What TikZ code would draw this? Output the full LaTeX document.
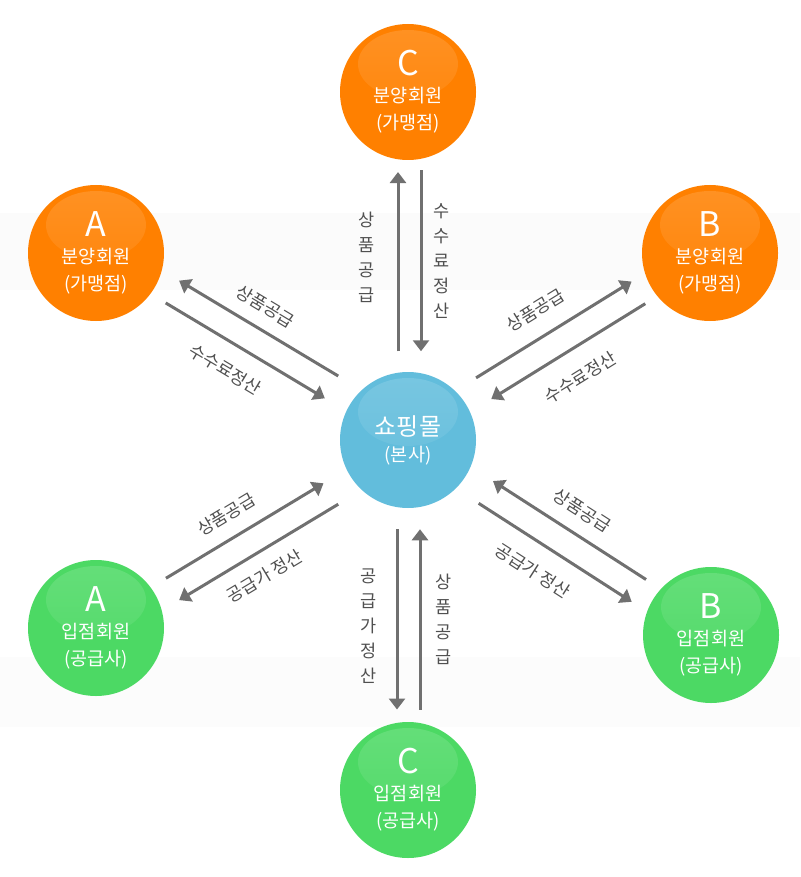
\documentclass[tikz,border=0pt]{standalone}
\usepackage{fontspec}
\setmainfont{Noto Sans CJK KR}
\usetikzlibrary{positioning,calc,arrows.meta}

\definecolor{ballorange}{HTML}{FF8000}
\definecolor{ballgreen}{HTML}{4CD964}
\definecolor{ballblue}{HTML}{62BDDC}
\definecolor{flowgray}{HTML}{707070}
\definecolor{textgray}{HTML}{505050}

\tikzset{
  ball/.style={circle, minimum size=136pt, inner sep=0pt, fill=#1, text=white,
    align=center, font=\fontsize{18.5}{27}\selectfont,
    path picture={\shade[top color=#1!86!white, bottom color=#1]
      ($(path picture bounding box.center)+(0pt,28pt)$) ellipse (50pt and 34pt);}},
  flow/.style={draw=flowgray, line width=3pt, -{Triangle[length=11pt,width=16pt]}},
  tag/.style={text=textgray, inner sep=0pt, font=\fontsize{17.5}{25}\selectfont},
  stack/.style={tag, align=center},
}
\newcommand{\ballletter}[1]{{\fontsize{34}{27}\selectfont #1}}

\begin{document}
\begin{tikzpicture}[x=1pt, y=1pt]
  \useasboundingbox (0,0) rectangle (800,-877);
  \fill[black!1.5] (0,-213) rectangle (800,-290);
  \fill[black!1.2] (0,-657) rectangle (800,-727);

  % members round the mall
  \node[ball=ballblue, font=\fontsize{18.5}{26}\selectfont] (mall) at (408,-440) {{\fontsize{24}{26}\selectfont 쇼핑몰}\\(본사)};
  \node[ball=ballorange] (oC) at (408,-92) {\ballletter{C}\\분양회원\\(가맹점)};
  \node[ball=ballorange] (oA) at (96,-253) {\ballletter{A}\\분양회원\\(가맹점)};
  \node[ball=ballorange] (oB) at (710,-253) {\ballletter{B}\\분양회원\\(가맹점)};
  \node[ball=ballgreen] (gA) at (96,-628) {\ballletter{A}\\입점회원\\(공급사)};
  \node[ball=ballgreen] (gB) at (711,-635) {\ballletter{B}\\입점회원\\(공급사)};
  \node[ball=ballgreen] (gC) at (408,-790) {\ballletter{C}\\입점회원\\(공급사)};

  % top
  \draw[flow] ($(mall)!0.255!(oC)!10pt!90:(oC)$) -- ($(mall)!0.77!(oC)!10pt!90:(oC)$)
    node[stack, pos=0.525, left=22pt] {상\\품\\공\\급};
  \draw[flow] ($(mall)!0.775!(oC)!-13pt!90:(oC)$) -- ($(mall)!0.255!(oC)!-13pt!90:(oC)$)
    node[stack, midway, right=11pt] {수\\수\\료\\정\\산};

  % upper left
  \draw[flow] ($(mall)!0.255!(oA)!-19pt!90:(oA)$) -- ($(mall)!0.765!(oA)!-19pt!90:(oA)$)
    node[tag, pos=0.53, sloped, above=13pt] {상품공급};
  \draw[flow] ($(mall)!0.765!(oA)!7pt!90:(oA)$) -- ($(mall)!0.255!(oA)!7pt!90:(oA)$)
    node[tag, pos=0.46, sloped, below=17pt] {수수료정산};

  % upper right
  \draw[flow] ($(mall)!0.255!(oB)!17pt!90:(oB)$) -- ($(mall)!0.77!(oB)!17pt!90:(oB)$)
    node[tag, pos=0.47, sloped, above=17pt] {상품공급};
  \draw[flow] ($(mall)!0.77!(oB)!-9pt!90:(oB)$) -- ($(mall)!0.26!(oB)!-9pt!90:(oB)$)
    node[tag, pos=0.52, sloped, below=19pt] {수수료정산};

  % lower left
  \draw[flow] ($(mall)!0.765!(gA)!-6.5pt!90:(gA)$) -- ($(mall)!0.26!(gA)!-6.5pt!90:(gA)$)
    node[tag, pos=0.46, sloped, above=14pt] {상품공급};
  \draw[flow] ($(mall)!0.255!(gA)!19pt!90:(gA)$) -- ($(mall)!0.765!(gA)!19pt!90:(gA)$)
    node[tag, pos=0.54, sloped, below=14pt] {공급가 정산};

  % lower right
  \draw[flow] ($(mall)!0.765!(gB)!11.5pt!90:(gB)$) -- ($(mall)!0.26!(gB)!11.5pt!90:(gB)$)
    node[tag, midway, sloped, above=14pt] {상품공급};
  \draw[flow] ($(mall)!0.26!(gB)!-15pt!90:(gB)$) -- ($(mall)!0.765!(gB)!-15pt!90:(gB)$)
    node[tag, pos=0.45, sloped, below=18pt] {공급가 정산};

  % bottom
  \draw[flow] ($(mall)!0.255!(gC)!-11pt!90:(gC)$) -- ($(mall)!0.77!(gC)!-11pt!90:(gC)$)
    node[stack, pos=0.535, left=19pt] {공\\급\\가\\정\\산};
  \draw[flow] ($(mall)!0.77!(gC)!12pt!90:(gC)$) -- ($(mall)!0.255!(gC)!12pt!90:(gC)$)
    node[stack, midway, right=14pt] {상\\품\\공\\급};
\end{tikzpicture}
\end{document}
